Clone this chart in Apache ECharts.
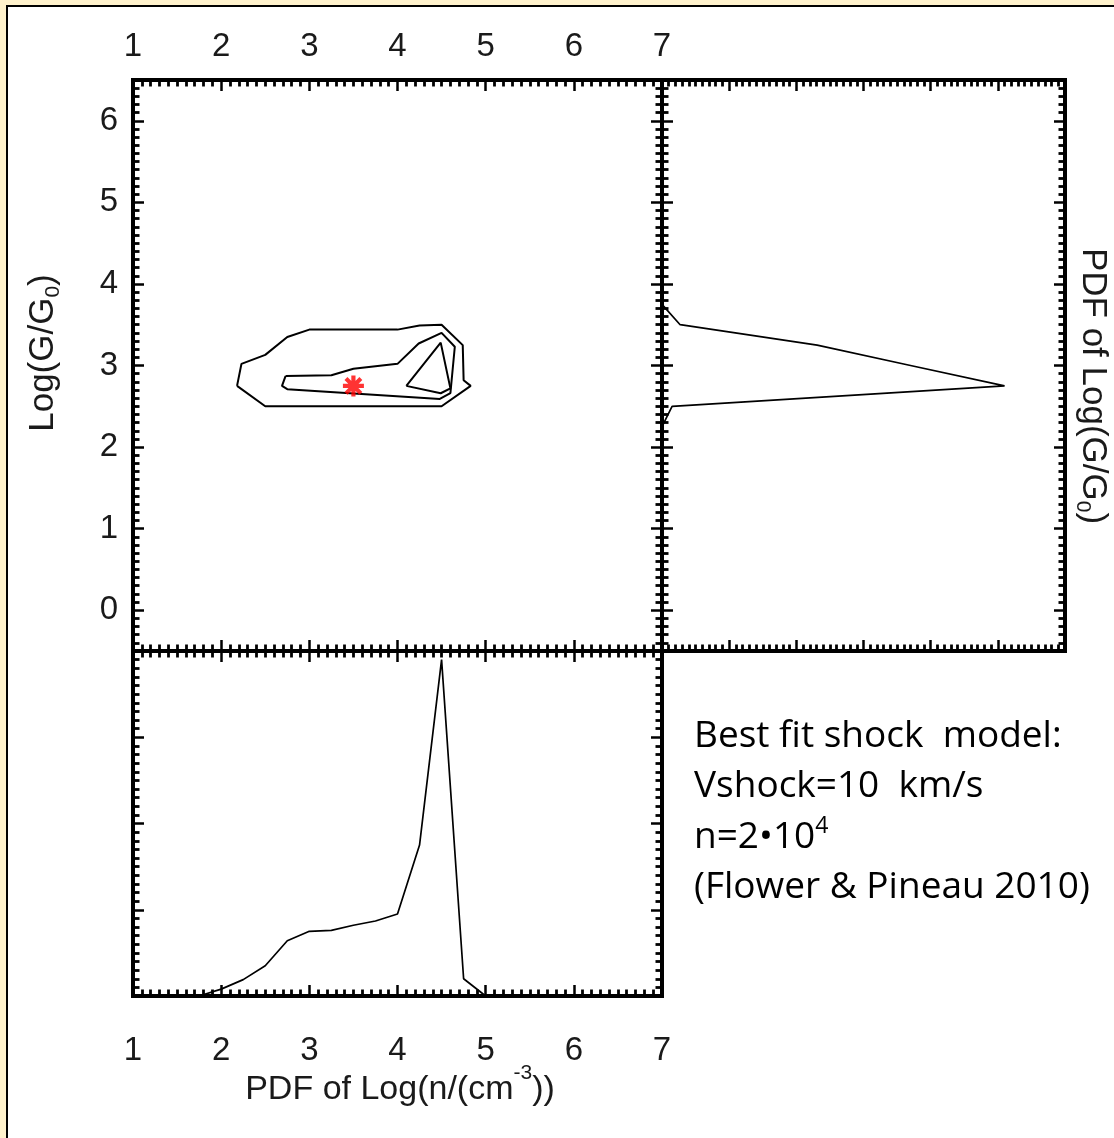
<!DOCTYPE html>
<html>
<head>
<meta charset="utf-8">
<script src="https://cdn.jsdelivr.net/npm/echarts@6/dist/echarts.min.js"></script>
<style>
  html, body { margin: 0; padding: 0; background: #FFF2CC; overflow: hidden; }
  #frame { position: absolute; left: 6px; top: 5px; width: 1300px; height: 1300px;
           background: #fff; border: 2.5px solid #000; box-sizing: border-box; }
  #chart { position: absolute; left: 0; top: 0; width: 1114px; height: 1138px; }
</style>
</head>
<body>
<div id="frame"></div>
<div id="chart"></div>
<script>
// Marginal PDF of log(n / cm^-3)
const densityBins = [1.75, 2.0, 2.25, 2.5, 2.75, 3.0, 3.25, 3.5, 3.75, 4.0, 4.25, 4.5, 4.75, 5.0];
const densityPdf  = [0, 0.08, 0.19, 0.35, 0.64, 0.75, 0.76, 0.82, 0.87, 0.95, 1.75, 3.9, 0.2, 0];

// Marginal PDF of log(G / G0)
const fieldBins = [2.25, 2.5, 2.75, 3.0, 3.25, 3.5, 3.75];
const fieldPdf  = [0, 0.15, 5.1, 3.7, 2.31, 0.27, 0];

// Confidence contours in the (log n, log G) plane, outermost first
const outerX  = [2.18, 2.23, 2.50, 2.75, 3.00, 4.00, 4.25, 4.50, 4.74, 4.75, 4.83, 4.50, 2.50, 2.18];
const outerY  = [2.75, 3.02, 3.13, 3.35, 3.44, 3.44, 3.49, 3.50, 3.25, 2.82, 2.75, 2.50, 2.50, 2.75];
const middleX = [2.73, 2.69, 2.75, 4.48, 4.60, 4.65, 4.50, 4.24, 4.00, 3.50, 3.25, 2.73];
const middleY = [2.87, 2.75, 2.71, 2.59, 2.66, 3.23, 3.40, 3.27, 3.02, 2.96, 2.88, 2.87];
const innerX  = [4.10, 4.49, 4.60, 4.49, 4.10];
const innerY  = [2.75, 3.28, 2.72, 2.66, 2.75];

// Best-fit model position
const bestFit = [3.5, 2.75];

// Axis ranges
const densityRange = [1, 7];
const fieldRange   = [-0.5, 6.5];
const densityPdfRange = [0, 4];
const fieldPdfRange   = [0, 6];

const noteLines = ['Best fit shock  model:', 'Vshock=10  km/s', '{a|n=2\u202210}{s|4}', '(Flower & Pineau 2010)'];

const AXIS_FONT = '"Liberation Sans", Arial, Helvetica, sans-serif';
const NOTE_FONT = '"Open Sans", "Noto Sans", sans-serif';
const INK = '#000';
const TEXT = '#1a1a1a';

const zip = (a, b) => a.map((v, i) => [v, b[i]]);

function frameAxis(gridIndex, position, range, extra) {
  return Object.assign({
    type: 'value', gridIndex, position, min: range[0], max: range[1],
    axisLine: { show: true, onZero: false, lineStyle: { color: INK, width: 4, cap: 'square' } },
    axisTick: { show: true, inside: true, length: 11, lineStyle: { color: INK, width: 2.5 } },
    minorTick: { show: true, splitNumber: 10, length: 6.5, lineStyle: { color: INK, width: 2.8 } },
    splitLine: { show: false },
    minorSplitLine: { show: false },
    axisLabel: { show: false }
  }, extra);
}

const tickLabel = (margin) => ({
  show: true, margin, color: TEXT, fontSize: 33, fontFamily: AXIS_FONT,
  formatter: v => Number.isInteger(v) ? String(v) : ''
});

const intTicks = { interval: 1 };
const halfOffsetTicks = { splitNumber: 7 };

const chart = echarts.init(document.getElementById('chart'), null, { renderer: 'canvas' });

const lineSeries = (data, xi, yi, width) => ({
  type: 'line', xAxisIndex: xi, yAxisIndex: yi, data,
  symbol: 'none', silent: true, animation: false, clip: true,
  lineStyle: { color: INK, width }
});

// eight-armed asterisk marker
const starPath = 'path://M0 8L20 8L20 12L0 12Z M8 0L12 0L12 20L8 20Z ' +
  'M1.5 4.3L4.3 1.5L18.5 15.7L15.7 18.5Z M15.7 1.5L18.5 4.3L4.3 18.5L1.5 15.7Z';

const titleRich = (size, extraKey, extra) => Object.assign({
  a: { fontSize: size, fontFamily: AXIS_FONT, lineHeight: 42, fill: TEXT }
}, { [extraKey]: Object.assign({ fontSize: 21, fontFamily: AXIS_FONT, lineHeight: 21, fill: TEXT }, extra) });

chart.setOption({
  animation: false,
  grid: [
    { left: 133, top: 80, width: 529, height: 571, outerBoundsMode: 'none' },
    { left: 662, top: 80, width: 403, height: 571, outerBoundsMode: 'none' },
    { left: 133, top: 651, width: 529, height: 345, outerBoundsMode: 'none' }
  ],
  xAxis: [
    frameAxis(0, 'bottom', densityRange, intTicks),
    frameAxis(0, 'top', densityRange, Object.assign({ axisLabel: tickLabel(17) }, intTicks)),
    frameAxis(1, 'bottom', fieldPdfRange, intTicks),
    frameAxis(1, 'top', fieldPdfRange, intTicks),
    frameAxis(2, 'bottom', densityRange, Object.assign({ axisLabel: tickLabel(38) }, intTicks)),
    frameAxis(2, 'top', densityRange, intTicks)
  ],
  yAxis: [
    frameAxis(0, 'left', fieldRange, Object.assign({ axisLabel: tickLabel(15) }, halfOffsetTicks)),
    frameAxis(0, 'right', fieldRange, halfOffsetTicks),
    frameAxis(1, 'left', fieldRange, halfOffsetTicks),
    frameAxis(1, 'right', fieldRange, halfOffsetTicks),
    frameAxis(2, 'left', densityPdfRange, intTicks),
    frameAxis(2, 'right', densityPdfRange, intTicks)
  ],
  series: [
    lineSeries(zip(outerX, outerY), 0, 0, 2),
    lineSeries(zip(middleX, middleY), 0, 0, 2),
    lineSeries(zip(innerX, innerY), 0, 0, 2),
    {
      type: 'scatter', xAxisIndex: 0, yAxisIndex: 0, data: [bestFit],
      symbol: starPath, symbolSize: 21, silent: true, z: 5,
      itemStyle: { color: '#FF0000' }
    },
    lineSeries(zip(fieldPdf, fieldBins), 2, 2, 1.7),
    lineSeries(zip(densityBins, densityPdf), 4, 4, 1.7)
  ],
  graphic: {
    elements: [
      {
        type: 'text', x: 43, y: 353, rotation: Math.PI / 2, silent: true,
        style: {
          text: '{a|Log(G/G}{b|0}{a|)}',
          align: 'center', verticalAlign: 'middle', fill: TEXT,
          font: '35px ' + AXIS_FONT,
          rich: titleRich(35, 'b', { verticalAlign: 'bottom' })
        }
      },
      {
        type: 'text', x: 1093, y: 386, rotation: -Math.PI / 2, silent: true,
        style: {
          text: '{a|PDF of Log(G/G}{b|0}{a|)}',
          align: 'center', verticalAlign: 'middle', fill: TEXT,
          font: '35px ' + AXIS_FONT,
          rich: titleRich(35, 'b', { verticalAlign: 'bottom' })
        }
      },
      {
        type: 'text', x: 400, y: 1090, silent: true,
        style: {
          text: '{a|PDF of Log(n/(cm}{s|-3}{a|))}',
          align: 'center', verticalAlign: 'middle', fill: TEXT,
          font: '34px ' + AXIS_FONT,
          rich: {
            a: { fontSize: 34, fontFamily: AXIS_FONT, lineHeight: 54, fill: TEXT },
            s: { fontSize: 21, fontFamily: AXIS_FONT, lineHeight: 21, verticalAlign: 'top', fill: TEXT }
          }
        }
      }
    ].concat(noteLines.map((line, i) => ({
      type: 'text', x: 694, y: 736 + i * 50.5, silent: true,
      style: {
        text: line.indexOf('{') === 0 ? line : '{a|' + line + '}',
        align: 'left', verticalAlign: 'middle', fill: '#000',
        font: '37px ' + NOTE_FONT,
        rich: {
          a: { fontSize: 37, fontFamily: NOTE_FONT, lineHeight: 44, fill: '#000' },
          s: { fontSize: 23, fontFamily: NOTE_FONT, lineHeight: 23, verticalAlign: 'top', fill: '#000' }
        }
      }
    })))
  }
});
</script>
</body>
</html>
